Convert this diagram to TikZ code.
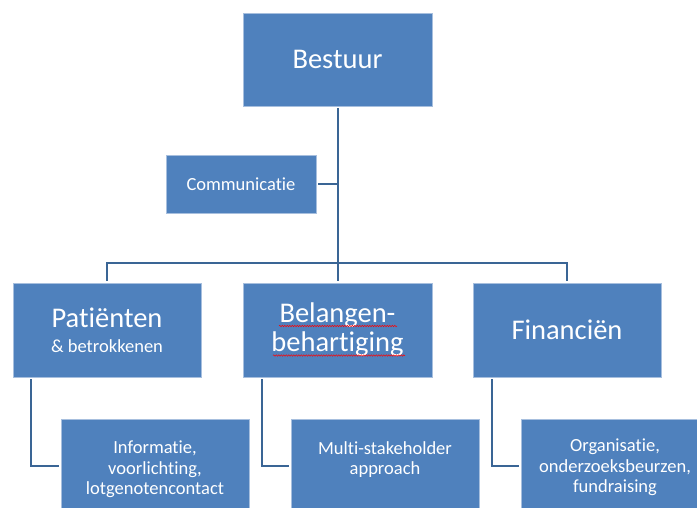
\documentclass[tikz,border=0pt]{standalone}
\usepackage{fontspec}
\setmainfont{Carlito}[Ligatures=NoCommon]
\usetikzlibrary{decorations.pathmorphing}
\definecolor{boxblue}{HTML}{4F81BD}
\definecolor{boxedge}{HTML}{A7BFDE}
\definecolor{linkblue}{HTML}{3A6595}
\begin{document}
\begin{tikzpicture}[x=1pt,y=-1pt,
  box/.style={fill=boxblue, draw=boxedge, line width=0.7pt, text=white, align=center, inner sep=0pt},
  boxtext/.style={text=white, align=center, inner sep=0pt},
  big/.style={font=\fontsize{28.5}{29}\selectfont},
  small/.style={font=\fontsize{18.5}{20.5}\selectfont},
  link/.style={draw=linkblue, line width=2pt},
  spell/.style={draw=red, line width=0.5pt, decorate, decoration={snake, amplitude=0.7pt, segment length=2.5pt}}]
\useasboundingbox (0,0) rectangle (697,507);
\clip (0,0) rectangle (697,507);

\node[box, big, minimum width=189pt, minimum height=93pt] (bestuur) at (337.5,59.5) {Bestuur};
\node[box, small, minimum width=150pt, minimum height=58pt] (comm) at (241,184) {Communicatie};
\node[box, font=\fontsize{28.5}{25}\selectfont, minimum width=188pt, minimum height=94pt] (pat) at (107,330) {Patiënten\\{\fontsize{18.5}{20}\selectfont\& betrokkenen}};
\node[box, big, minimum width=189pt, minimum height=94pt] (bel) at (337.5,330) {Belangen-\\behartiging};
\node[box, big, minimum width=188pt, minimum height=94pt] (fin) at (567,330) {Financiën};
\node[box, minimum width=188pt, minimum height=93pt] (info) at (155,465.5) {};
\node[box, minimum width=188pt, minimum height=93pt] (multi) at (385,465.5) {};
\node[box, minimum width=188pt, minimum height=93pt] (org) at (615,465.5) {};
\node[boxtext, small] (infotext) at ([yshift=-4pt]info.center) {Informatie,\\voorlichting,\\lotgenotencontact};
\node[boxtext, small] (multitext) at ([yshift=6pt]multi.center) {Multi-stakeholder\\approach};
\node[boxtext, small] (orgtext) at ([yshift=-2pt]org.center) {Organisatie,\\onderzoeksbeurzen,\\fundraising};

\draw[link] ([yshift=-2pt]bestuur.south) -- ([yshift=2pt]bel.north);
\draw[link] ([yshift=2pt]pat.north) -- ++(0,-18) -| ([yshift=2pt]fin.north);
\draw[link] ([xshift=2pt]comm.east) -- (comm.east -| bestuur.south);
\draw[link] ([xshift=18pt,yshift=-2pt]pat.south west) |- ([xshift=-2pt]info.west);
\draw[link] ([xshift=19pt,yshift=-2pt]bel.south west) |- ([xshift=-2pt]multi.west);
\draw[link] ([xshift=19pt,yshift=-2pt]fin.south west) |- ([xshift=-2pt]org.west);

% spell-check underlines
\draw[spell] (279,326) -- (397,326);
\draw[spell] (273,355.5) -- (405,355.5);
\end{tikzpicture}
\end{document}
